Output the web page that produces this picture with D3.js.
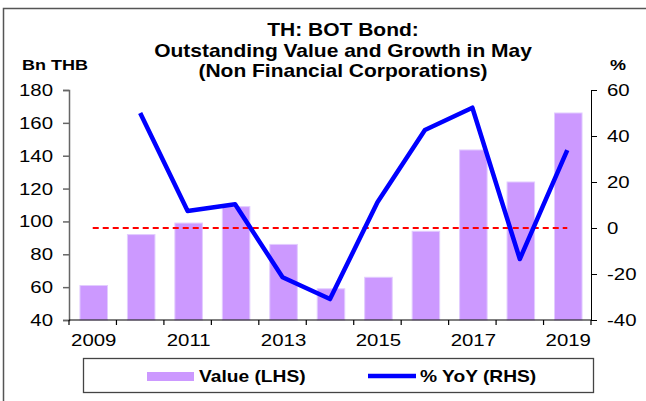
<!DOCTYPE html>
<html>
<head>
<meta charset="utf-8">
<script src="https://cdn.jsdelivr.net/npm/d3@7"></script>
<style>
    body { margin: 0; background: #fff; }
    svg { display: block; font-family: "Liberation Sans", Arial, sans-serif; }
</style>
</head>
<body>
<svg id="chart" width="646" height="401"></svg>
<script>
const years = [2009, 2010, 2011, 2012, 2013, 2014, 2015, 2016, 2017, 2018, 2019]
const valueBn = [61, 92, 99, 109, 86, 59, 66, 94, 143.5, 124, 166]
const yoyPct = [null, 50, 7.4, 10.3, -21.4, -30.9, 11.2, 42.6, 52.3, -13.5, 33.9]
const leftTicks = [40, 60, 80, 100, 120, 140, 160, 180]
const rightTicks = [-40, -20, 0, 20, 40, 60]
const yearLabels = [2009, 2011, 2013, 2015, 2017, 2019]
const titleLines = ["TH: BOT Bond:", "Outstanding Value and Growth in May", "(Non Financial Corporations)"]

// the source picture is stretched sideways a bit
const SX = 1.2

const LEFT = 69, RIGHT = 591, TOP = 90, BOTTOM = 320

const svg = d3.select("#chart")

const x = d3.scaleBand()
    .domain(years)
    .range([LEFT, RIGHT])
    .padding(0)

const yL = d3.scaleLinear().domain([40, 180]).range([BOTTOM, TOP])
const yR = d3.scaleLinear().domain([-40, 60]).range([BOTTOM, TOP])

function label(x0, y0, str, size, bold, anchor) {
    return svg.append("text")
        .attr("transform", `translate(${x0},${y0}) scale(${SX},1)`)
        .attr("text-anchor", anchor || "middle")
        .style("font-size", size + "px")
        .style("font-weight", bold ? "bold" : "normal")
        .style("fill", "#000")
        .text(str)
}

// frame
svg.append("path")
    .attr("d", "M3.5,401 L3.5,8.5 L646,8.5")
    .style("fill", "none")
    .style("stroke", "#555")
    .style("stroke-width", 1.5)

// title
titleLines.forEach((t, i) => label(343, 36 + i * 20.5, t, 17.5, true))
label(22, 70, "Bn THB", 15, true, "start")
label(618, 70, "%", 15, true)

// bars
const barW = x.bandwidth() * 0.58
svg.selectAll(".bar")
    .data(years)
    .enter()
    .append("rect")
    .attr("class", "bar")
    .attr("x", (d, i) => x(d) + x.bandwidth() / 2 - barW / 2 + 1)
    .attr("y", (d, i) => yL(valueBn[i]))
    .attr("width", barW)
    .attr("height", (d, i) => BOTTOM - yL(valueBn[i]))
    .style("fill", "#CC99FF")
    .style("stroke", "#E2CCFF")
    .style("stroke-width", 1)

// zero line for the RHS
svg.append("line")
    .attr("x1", x(years[0]) + x.bandwidth() / 2)
    .attr("x2", x(years[years.length - 1]) + x.bandwidth() / 2)
    .attr("y1", yR(0))
    .attr("y2", yR(0))
    .style("stroke", "#FF0000")
    .style("stroke-width", 2)
    .style("stroke-dasharray", "6,4")

// growth line
const line = d3.line()
    .defined(d => d[1] !== null)
    .x(d => x(d[0]) + x.bandwidth() / 2)
    .y(d => yR(d[1]))

svg.append("path")
    .datum(years.map((d, i) => [d, yoyPct[i]]))
    .attr("d", line)
    .style("fill", "none")
    .style("stroke", "#0000FF")
    .style("stroke-width", 4.5)
    .style("stroke-linejoin", "round")

// left axis
const gl = svg.append("g")
    .attr("transform", `translate(${LEFT},0)`)
    .call(d3.axisLeft(yL).tickValues(leftTicks).tickSize(6))
gl.selectAll("path, line").style("stroke", "#666").style("stroke-width", 1.5)
gl.selectAll("text").remove()
leftTicks.forEach(t => label(53, yL(t) + 6, t, 17, false, "end"))

// right axis
const gr = svg.append("g")
    .attr("transform", `translate(${RIGHT},0)`)
    .call(d3.axisRight(yR).tickValues(rightTicks).tickSize(6))
gr.selectAll("path, line").style("stroke", "#000").style("stroke-width", 1)
gr.selectAll("text").remove()
rightTicks.forEach(t => label(607, yR(t) + 6, t, 17, false, "start"))

// bottom axis, ticks between categories
const gb = svg.append("g")
svg.append("line")
    .attr("x1", LEFT).attr("x2", RIGHT)
    .attr("y1", BOTTOM).attr("y2", BOTTOM)
    .style("stroke", "#000")
    .style("stroke-width", 1.2)
gb.selectAll("line")
    .data(years.concat([null]))
    .enter()
    .append("line")
    .attr("x1", (d, i) => i < years.length ? x(d) : RIGHT)
    .attr("x2", (d, i) => i < years.length ? x(d) : RIGHT)
    .attr("y1", BOTTOM)
    .attr("y2", BOTTOM + 5)
    .style("stroke", "#000")
    .style("stroke-width", 1.2)
yearLabels.forEach(yr => label(x(yr) + x.bandwidth() / 2 + 1, 346, yr, 17, false))

// legend
svg.append("rect")
    .attr("x", 83.5).attr("y", 358.5)
    .attr("width", 510).attr("height", 34)
    .style("fill", "#fff")
    .style("stroke", "#444")
    .style("stroke-width", 1.3)

svg.append("rect")
    .attr("x", 147).attr("y", 372)
    .attr("width", 47).attr("height", 9)
    .style("fill", "#CC99FF")
label(199, 381.5, "Value (LHS)", 16, true, "start")

svg.append("line")
    .attr("x1", 368).attr("x2", 416)
    .attr("y1", 376).attr("y2", 376)
    .style("stroke", "#0000FF")
    .style("stroke-width", 4.5)
label(420, 381.5, "% YoY (RHS)", 16, true, "start")
</script>
</body>
</html>
